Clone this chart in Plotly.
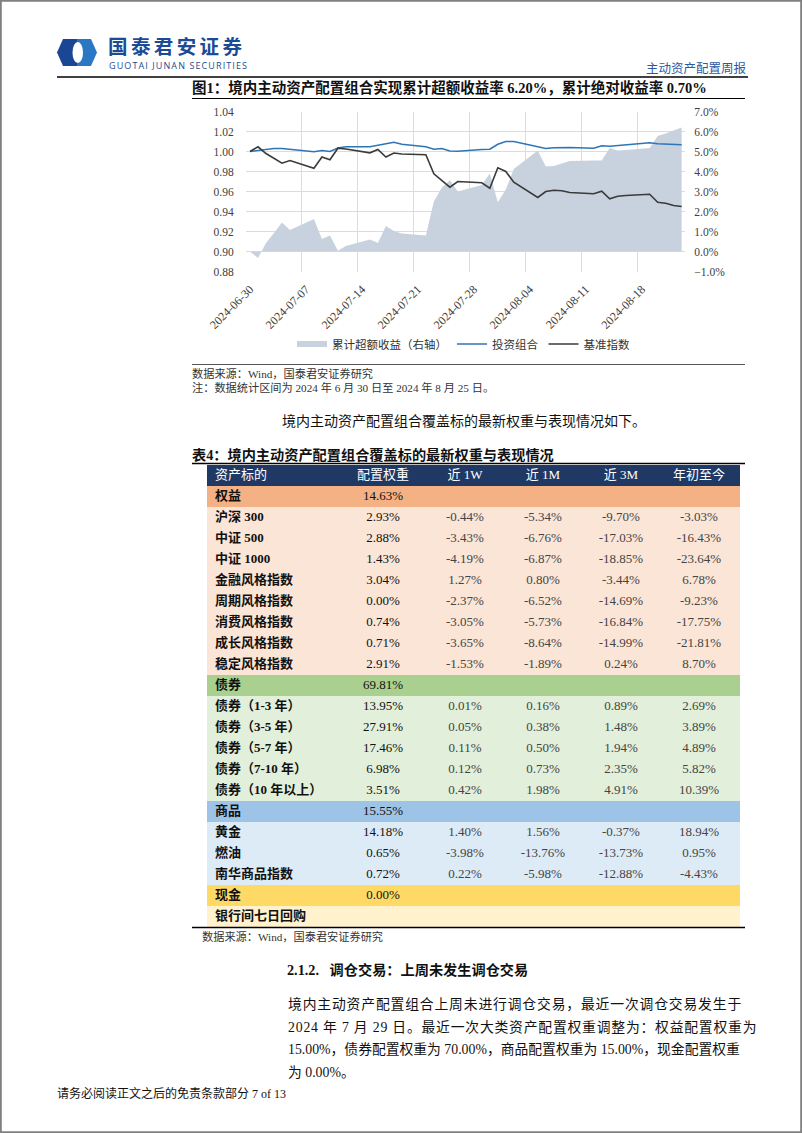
import pandas as pd
import plotly.graph_objects as go

# Page size (the whole report page is one figure)
W, H = 802, 1133
SERIF = "Liberation Serif, 'Noto Sans CJK SC', serif"
SANS = "'Noto Sans CJK SC', 'Noto Sans', sans-serif"

# ---- chart data: trading days, cumulative excess return (%), NAVs ----
dates = ["2024-06-30",
         "2024-07-01", "2024-07-02", "2024-07-03", "2024-07-04", "2024-07-05",
         "2024-07-08", "2024-07-09", "2024-07-10", "2024-07-11", "2024-07-12",
         "2024-07-15", "2024-07-16", "2024-07-17", "2024-07-18", "2024-07-19",
         "2024-07-22", "2024-07-23", "2024-07-24", "2024-07-25", "2024-07-26",
         "2024-07-29", "2024-07-30", "2024-07-31", "2024-08-01", "2024-08-02",
         "2024-08-05", "2024-08-06", "2024-08-07", "2024-08-08", "2024-08-09",
         "2024-08-12", "2024-08-13", "2024-08-14", "2024-08-15", "2024-08-16",
         "2024-08-19", "2024-08-20", "2024-08-21", "2024-08-22", "2024-08-23"]
excess = [0.00,
          -0.33, 0.42, 0.92, 1.45, 1.08,
          1.63, 0.63, 0.80, 0.04, 0.27,
          0.60, 0.42, 1.27, 1.02, 0.90,
          0.80, 2.50, 3.20, 3.56, 3.00,
          3.33, 3.90, 2.46, 3.10, 4.13,
          5.05, 4.25, 4.27, 4.40, 4.53,
          4.55, 4.55, 5.17, 5.05, 5.08,
          5.17, 5.77, 5.90, 6.05, 6.20]
portfolio = [1.0000,
             1.0008, 1.0017, 1.0030, 1.0030, 1.0023,
             0.9997, 1.0010, 1.0000, 1.0035, 1.0047,
             1.0047, 1.0060, 1.0077, 1.0093, 1.0072,
             1.0047, 1.0023, 1.0030, 1.0005, 1.0003,
             1.0020, 1.0023, 1.0073, 1.0100, 1.0100,
             1.0043, 1.0030, 1.0037, 1.0040, 1.0040,
             1.0033, 1.0057, 1.0053, 1.0060, 1.0067,
             1.0087, 1.0077, 1.0073, 1.0067, 1.0068]
benchmark = [1.0000,
             1.0047, 0.9980, 0.9930, 0.9883, 0.9910,
             0.9833, 0.9945, 0.9917, 1.0033, 1.0025,
             0.9987, 1.0020, 0.9945, 0.9985, 0.9975,
             0.9967, 0.9777, 0.9710, 0.9643, 0.9700,
             0.9687, 0.9633, 0.9837, 0.9800, 0.9693,
             0.9540, 0.9600, 0.9613, 0.9607, 0.9590,
             0.9577, 0.9603, 0.9527, 0.9553, 0.9560,
             0.9573, 0.9493, 0.9483, 0.9460, 0.9450]
tick_dates = ["2024-06-30", "2024-07-07", "2024-07-14", "2024-07-21",
              "2024-07-28", "2024-08-04", "2024-08-11", "2024-08-18"]

# ---- table data ----
table_header = ["资产标的", "配置权重", "近 1W", "近 1M", "近 3M", "年初至今"]
assets = ["权益", "沪深 300", "中证 500", "中证 1000", "金融风格指数", "周期风格指数",
          "消费风格指数", "成长风格指数", "稳定风格指数",
          "债券", "债券（1-3 年）", "债券（3-5 年）", "债券（5-7 年）", "债券（7-10 年）",
          "债券（10 年以上）",
          "商品", "黄金", "燃油", "南华商品指数",
          "现金", "银行间七日回购"]
weights = ["14.63%", "2.93%", "2.88%", "1.43%", "3.04%", "0.00%", "0.74%", "0.71%", "2.91%",
           "69.81%", "13.95%", "27.91%", "17.46%", "6.98%", "3.51%",
           "15.55%", "14.18%", "0.65%", "0.72%",
           "0.00%", ""]
ret_1w = ["", "-0.44%", "-3.43%", "-4.19%", "1.27%", "-2.37%", "-3.05%", "-3.65%", "-1.53%",
          "", "0.01%", "0.05%", "0.11%", "0.12%", "0.42%",
          "", "1.40%", "-3.98%", "0.22%", "", ""]
ret_1m = ["", "-5.34%", "-6.76%", "-6.87%", "0.80%", "-6.52%", "-5.73%", "-8.64%", "-1.89%",
          "", "0.16%", "0.38%", "0.50%", "0.73%", "1.98%",
          "", "1.56%", "-13.76%", "-5.98%", "", ""]
ret_3m = ["", "-9.70%", "-17.03%", "-18.85%", "-3.44%", "-14.69%", "-16.84%", "-14.99%", "0.24%",
          "", "0.89%", "1.48%", "1.94%", "2.35%", "4.91%",
          "", "-0.37%", "-13.73%", "-12.88%", "", ""]
ret_ytd = ["", "-3.03%", "-16.43%", "-23.64%", "6.78%", "-9.23%", "-17.75%", "-21.81%", "8.70%",
           "", "2.69%", "3.89%", "4.89%", "5.82%", "10.39%",
           "", "18.94%", "0.95%", "-4.43%", "", ""]
groups = ["权益"] * 9 + ["债券"] * 6 + ["商品"] * 4 + ["现金"] * 2
group_colors = {"权益": ("#f4b183", "#fbe5d6"),
                "债券": ("#a9d08e", "#e2efda"),
                "商品": ("#9dc3e6", "#ddebf7"),
                "现金": ("#ffd966", "#fff2cc")}
header_color = "#1f3864"
# column centres on the table's own x scale (0 = left edge of the table)
col_pos = [8, 176, 258, 336, 414, 492]
table_w = 533


def fx(x):
    return x / W


def fy(y):
    return 1 - y / H


fig = go.Figure()

# excess return area on the right axis (primary y so lines draw above it)
fig.add_trace(go.Scatter(x=dates, y=excess, name="累计超额收益（右轴）", mode="none",
                         fill="tozeroy", fillcolor="#c8d2de", yaxis="y", hoverinfo="skip"))
fig.add_trace(go.Scatter(x=dates, y=portfolio, name="投资组合", mode="lines",
                         line=dict(color="#2e75b6", width=1.6), yaxis="y2"))
fig.add_trace(go.Scatter(x=dates, y=benchmark, name="基准指数", mode="lines",
                         line=dict(color="#3a3a3a", width=1.6), yaxis="y2"))

# ---- table on its own axes: one row per unit, header is row 0 ----
row_fill = [header_color] + [group_colors[g][0] if a == g else group_colors[g][1]
                             for a, g in zip(assets, groups)]
for i, c in enumerate(row_fill):
    fig.add_shape(type="rect", xref="x3", yref="y3", x0=0, x1=table_w, y0=i, y1=i + 1,
                  fillcolor=c, line=dict(width=0), layer="below")

n = len(assets)
row_y = [i + 1.5 for i in range(n)]
fig.add_trace(go.Scatter(x=[col_pos[0]] * n, y=row_y, mode="text", xaxis="x3", yaxis="y3",
                         text=["<b>%s</b>" % a for a in assets], textposition="middle right",
                         textfont=dict(family=SERIF, size=13, color="#111111"),
                         showlegend=False, hoverinfo="skip"))
for k, (col, colr) in enumerate([(weights, "#111111"), (ret_1w, "#444444"), (ret_1m, "#444444"),
                                 (ret_3m, "#444444"), (ret_ytd, "#444444")]):
    fig.add_trace(go.Scatter(x=[col_pos[k + 1]] * n, y=row_y, mode="text", xaxis="x3", yaxis="y3",
                             text=col, textposition="middle center",
                             textfont=dict(family=SERIF, size=13, color=colr),
                             showlegend=False, hoverinfo="skip"))
fig.add_trace(go.Scatter(x=col_pos, y=[0.5] * 6, mode="text", xaxis="x3", yaxis="y3",
                         text=table_header,
                         textposition=["middle right"] + ["middle center"] * 5,
                         textfont=dict(family=SERIF, size=13, color="white"),
                         showlegend=False, hoverinfo="skip"))

grid_days = list(pd.to_datetime(tick_dates) - pd.Timedelta(hours=12))

fig.update_layout(
    width=W, height=H, template="none",
    margin=dict(l=0, r=0, t=0, b=0),
    paper_bgcolor="white", plot_bgcolor="rgba(0,0,0,0)",
    showlegend=True,
    legend=dict(orientation="h", x=fx(292), y=fy(344), xanchor="left", yanchor="middle",
                font=dict(family=SANS, size=11.5, color="#333333"), itemwidth=30,
                bgcolor="rgba(0,0,0,0)"),
    xaxis=dict(type="date", domain=[fx(246), fx(685)],
               range=["2024-06-29 12:00", "2024-08-23 10:00"],
               tickvals=tick_dates, ticktext=tick_dates, tickangle=-45,
               ticks="outside", ticklen=5, tickcolor="rgba(0,0,0,0)",
               showgrid=False, showline=False, zeroline=False, automargin=False,
               tickfont=dict(family=SERIF, size=12, color="#404040"),
               minor=dict(tickmode="array", tickvals=grid_days, showgrid=True,
                          gridcolor="#dcdcdc", gridwidth=1)),
    yaxis=dict(domain=[fy(271.5), fy(111.5)], side="right", range=[-1, 7], dtick=1,
               tickformat=".1f", ticksuffix="%", showgrid=True, gridcolor="#dcdcdc",
               zeroline=False, showline=False, automargin=False,
               ticks="outside", ticklen=6, tickcolor="rgba(0,0,0,0)",
               tickfont=dict(family=SERIF, size=11.5, color="#404040")),
    yaxis2=dict(overlaying="y", side="left", range=[0.88, 1.04], dtick=0.02,
                tickformat=".2f", showgrid=False, zeroline=False, showline=False,
                automargin=False, ticks="outside", ticklen=9, tickcolor="rgba(0,0,0,0)",
                tickfont=dict(family=SERIF, size=11.5, color="#404040")),
    xaxis3=dict(domain=[fx(207), fx(740)], range=[0, table_w], anchor="y3", visible=False,
                fixedrange=True),
    yaxis3=dict(domain=[fy(927), fy(465)], range=[n + 1, 0], anchor="x3", visible=False,
                fixedrange=True),
)


def label(text, x, y, size, color="#111111", family=SERIF, anchor="left"):
    fig.add_annotation(text=text, x=fx(x), y=fy(y), xref="paper", yref="paper",
                       xanchor=anchor, yanchor="middle", showarrow=False, borderpad=0,
                       font=dict(family=family, size=size, color=color))


def hline(y, x0, x1, width=1.0, color="#000000"):
    fig.add_shape(type="line", xref="paper", yref="paper", x0=fx(x0), x1=fx(x1),
                  y0=fy(y), y1=fy(y), line=dict(color=color, width=width))


def path(points):
    return "M " + " L ".join("%f,%f" % (fx(px), fy(py)) for px, py in points) + " Z"


# page frame
fig.add_shape(type="rect", xref="paper", yref="paper", x0=fx(0.8), x1=fx(801.2),
              y0=fy(1132.2), y1=fy(0.8), line=dict(color="#808080", width=2))

# logo
fig.add_shape(type="path", xref="paper", yref="paper",
              path=path([(63, 39), (77, 39), (77, 66), (63, 66), (57, 52.5)]),
              fillcolor="#1b4693", line=dict(width=0))
fig.add_shape(type="path", xref="paper", yref="paper",
              path=path([(77, 39), (91, 39), (97, 52.5), (91, 66), (77, 66)]),
              fillcolor="#2a78c4", line=dict(width=0))
fig.add_shape(type="circle", xref="paper", yref="paper", x0=fx(72.5), x1=fx(83),
              y0=fy(63), y1=fy(42), fillcolor="white", line=dict(width=0))
label("<span style='letter-spacing:3.4px'><b>国泰君安证券</b></span>", 107, 45.5, 19.5,
      color="#1c4b95", family=SANS)
label("<span style='letter-spacing:1.1px'>GUOTAI JUNAN SECURITIES</span>", 108, 65.5, 9,
      color="#1c4b95", family="'Open Sans', 'Noto Sans', sans-serif")
label("主动资产配置周报", 748, 68, 12.5, color="#2a5aa6", family=SANS, anchor="right")
hline(77, 57, 748, 1.5)

# figure title and notes
label("<b>图1：境内主动资产配置组合实现累计超额收益率 6.20%，累计绝对收益率 0.70%</b>",
      191, 88, 14.5)
hline(98.5, 192, 745, 1.0)
hline(364.5, 192, 745, 1.0, "#555555")
label("数据来源：Wind，国泰君安证券研究", 191, 373, 11.2, "#333333")
label("注：数据统计区间为 2024 年 6 月 30 日至 2024 年 8 月 25 日。", 191, 387, 11.2, "#333333")

label("境内主动资产配置组合覆盖标的最新权重与表现情况如下。", 281, 421, 14)
label("<b>表4：境内主动资产配置组合覆盖标的最新权重与表现情况</b>", 191, 455, 14.2)
hline(463.5, 192, 745, 1.5)
hline(927.5, 192, 745, 1.5)
label("数据来源：Wind，国泰君安证券研究", 201, 936, 11.2, "#333333")

label("<b>2.1.2.\u00a0\u00a0\u00a0调仓交易：上周未发生调仓交易</b>", 286, 970, 14.2)
body = ["境内主动资产配置组合上周未进行调仓交易，最近一次调仓交易发生于",
        "2024 年 7 月 29 日。最近一次大类资产配置权重调整为：权益配置权重为",
        "15.00%，债券配置权重为 70.00%，商品配置权重为 15.00%，现金配置权重",
        "为 0.00%。"]
spacing = [0.85, 0.8, 0, 0]
for i, line in enumerate(body):
    label("<span style='letter-spacing:%spx'>%s</span>" % (spacing[i], line),
          287, 1004 + i * 22.7, 13.8)

label("请务必阅读正文之后的免责条款部分 7 of 13", 56, 1093, 12)

fig.write_html("out.html", config={"displayModeBar": False},
               post_script="document.body.style.margin='0';")
